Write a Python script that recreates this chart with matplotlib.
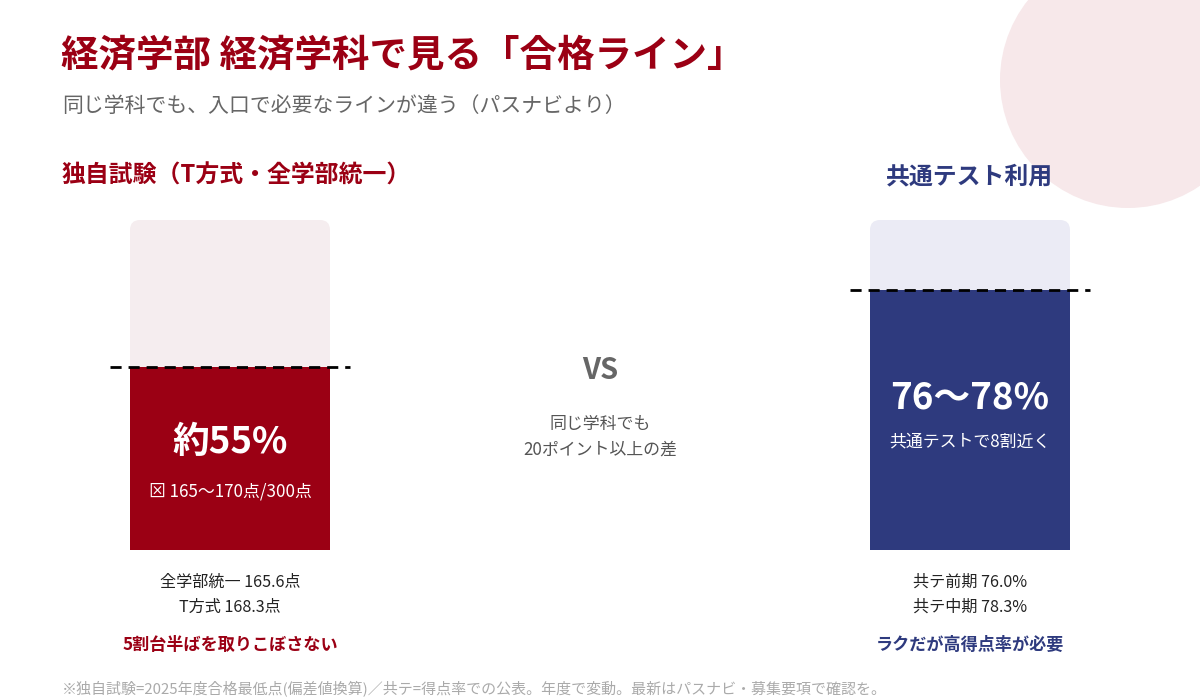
import matplotlib
matplotlib.use("Agg")
import matplotlib.pyplot as plt
from matplotlib.patches import FancyBboxPatch, Circle

plt.rcParams['font.family'] = ['Noto Sans CJK JP', 'DejaVu Sans']

# data
headers = ["独自試験（T方式・全学部統一）", "共通テスト利用"]
rates = [55.5, 78.8]  # 合格ラインの得点率(%)  図から読み取り
big_labels = ["約55%", "76〜78%"]
sub_labels = ["⊠ 165〜170点/300点", "共通テストで8割近く"]
details = [["全学部統一 165.6点", "T方式 168.3点"],
           ["共テ前期 76.0%", "共テ中期 78.3%"]]
notes = ["5割台半ばを取りこぼさない", "ラクだが高得点率が必要"]

RED = "#9b0014"
NAVY = "#2e3a7e"
colors = [RED, NAVY]
bg_colors = ["#f5edef", "#ebebf5"]

fig = plt.figure(figsize=(12, 7), dpi=100)
ax = fig.add_axes([0, 0, 1, 1])
ax.set_xlim(0, 1200)
ax.set_ylim(700, 0)
ax.axis('off')

# decorative circle top right
ax.add_patch(Circle((1128, 80), 128, color="#f7e8ea", zorder=0, lw=0))

ax.text(61, 55, "経済学部 経済学科で見る「合格ライン」", fontsize=27, fontweight='bold',
        color=RED, va='center', ha='left')
ax.text(62, 106, "同じ学科でも、入口で必要なラインが違う（パスナビより）", fontsize=15,
        color="#666666", va='center', ha='left')

xc = [230, 970]
bw = 200
top, bottom = 220, 550
H = bottom - top
hdr_x = [62, 1053]
hdr_ha = ['left', 'right']
big_y = [443, 398]
sub_y = [491, 441]

heights = [r / 100 * H for r in rates]
ax.bar(xc, heights, bottom=[bottom - h for h in heights], width=bw, color=colors, zorder=2)

for i in range(2):
    ax.text(hdr_x[i], 176, headers[i], fontsize=17.2, fontweight='bold', color=colors[i],
            ha=hdr_ha[i], va='center')
    ax.add_patch(FancyBboxPatch((xc[i] - bw / 2, top), bw, H,
                                boxstyle="round,pad=0,rounding_size=10",
                                fc=bg_colors[i], ec='none', zorder=1))
    y_line = bottom - heights[i]
    ax.plot([xc[i] - 120, xc[i] + 120], [y_line, y_line], color='black', lw=2,
            linestyle=(0, (4, 2.5)), zorder=3)
    ax.text(xc[i], big_y[i], big_labels[i], fontsize=26.5, fontweight='bold', color='white',
            ha='center', va='center', zorder=4)
    ax.text(xc[i], sub_y[i], sub_labels[i], fontsize=12.2, color='white',
            ha='center', va='center', zorder=4)
    ax.text(xc[i], 582, details[i][0], fontsize=11.6, color="#222222", ha='center', va='center')
    ax.text(xc[i], 607, details[i][1], fontsize=11.6, color="#222222", ha='center', va='center')
    ax.text(xc[i], 645, notes[i], fontsize=12.3, fontweight='bold', color=colors[i],
            ha='center', va='center')

ax.text(600, 370, "VS", fontsize=21, fontweight='bold', color="#666666", ha='center', va='center')
ax.text(600, 424, "同じ学科でも", fontsize=12.2, color="#555555", ha='center', va='center')
ax.text(600, 450, "20ポイント以上の差", fontsize=12.2, color="#555555", ha='center', va='center')

ax.text(62, 688, "※独自試験=2025年度合格最低点(偏差値換算)／共テ=得点率での公表。年度で変動。最新はパスナビ・募集要項で確認を。",
        fontsize=10.8, color="#aaaaaa", ha='left', va='center')

fig.savefig("out.png", dpi=100)
